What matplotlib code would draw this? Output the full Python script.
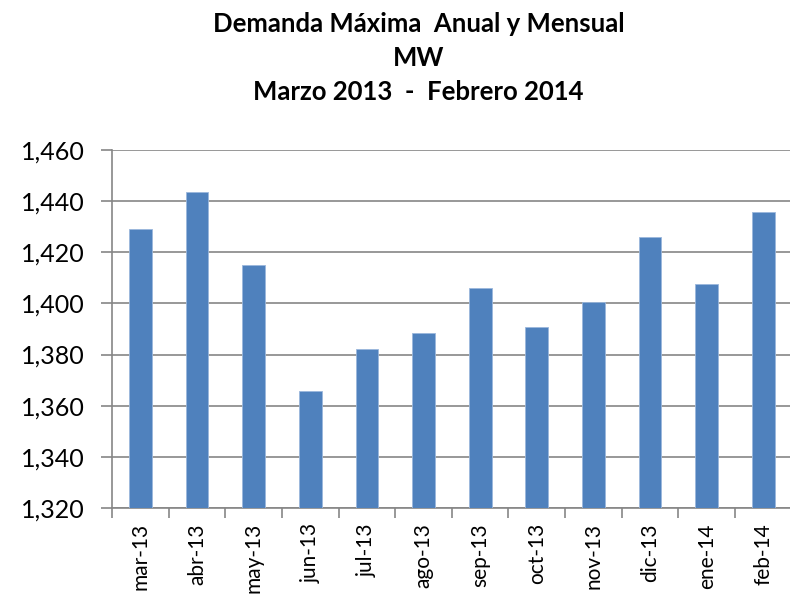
import matplotlib
matplotlib.use("Agg")
import matplotlib.pyplot as plt
from matplotlib.ticker import FuncFormatter

# Monthly peak demand (MW)
months = ['mar-13', 'abr-13', 'may-13', 'jun-13', 'jul-13', 'ago-13',
          'sep-13', 'oct-13', 'nov-13', 'dic-13', 'ene-14', 'feb-14']
demand = [1429.2, 1443.7, 1414.9, 1365.9, 1382.0, 1388.4,
          1406.0, 1390.7, 1400.4, 1426.1, 1407.6, 1435.7]
yticks = [1320, 1340, 1360, 1380, 1400, 1420, 1440, 1460]

title = 'Demanda Máxima  Anual y Mensual\nMW\nMarzo 2013  -  Febrero 2014'

plt.rcParams['font.family'] = ['Lato', 'DejaVu Sans']

fig = plt.figure(figsize=(7.9, 5.96), dpi=100)
ax = fig.add_axes([0.142, 0.148, 0.86, 0.600])

x = range(len(months))
ax.bar(x, demand, width=0.4, color='#4f81bd', edgecolor='#9bb7dc',
       linewidth=0.6, zorder=3)

ax.set_ylim(1320, 1460)
ax.set_xlim(-0.5, len(months) - 0.5)
ax.set_yticks(yticks)
ax.yaxis.set_major_formatter(FuncFormatter(lambda v, p: '{:,.0f}'.format(v)))
ax.grid(axis='y', color='#868686', linewidth=1.2, zorder=0)

# category labels centred, tick marks between categories
ax.set_xticks(list(x))
ax.set_xticklabels(months, rotation=90, fontsize=15)
ax.set_xticks([i + 0.5 for i in range(-1, len(months))], minor=True)
ax.tick_params(axis='x', which='major', length=0, pad=11)
ax.tick_params(axis='x', which='minor', length=7, width=1.2,
               color='#868686', direction='out')
ax.tick_params(axis='y', length=8, width=1.2, color='#868686',
               labelsize=18, pad=12)

for side in ['top', 'right']:
    ax.spines[side].set_visible(False)
for side in ['left', 'bottom']:
    ax.spines[side].set_color('#868686')
    ax.spines[side].set_linewidth(1.2)

fig.text(0.53, 0.98, title, ha='center', va='top', fontsize=18.5,
         fontweight='bold', linespacing=1.5)

fig.savefig('out.png', dpi=100)
